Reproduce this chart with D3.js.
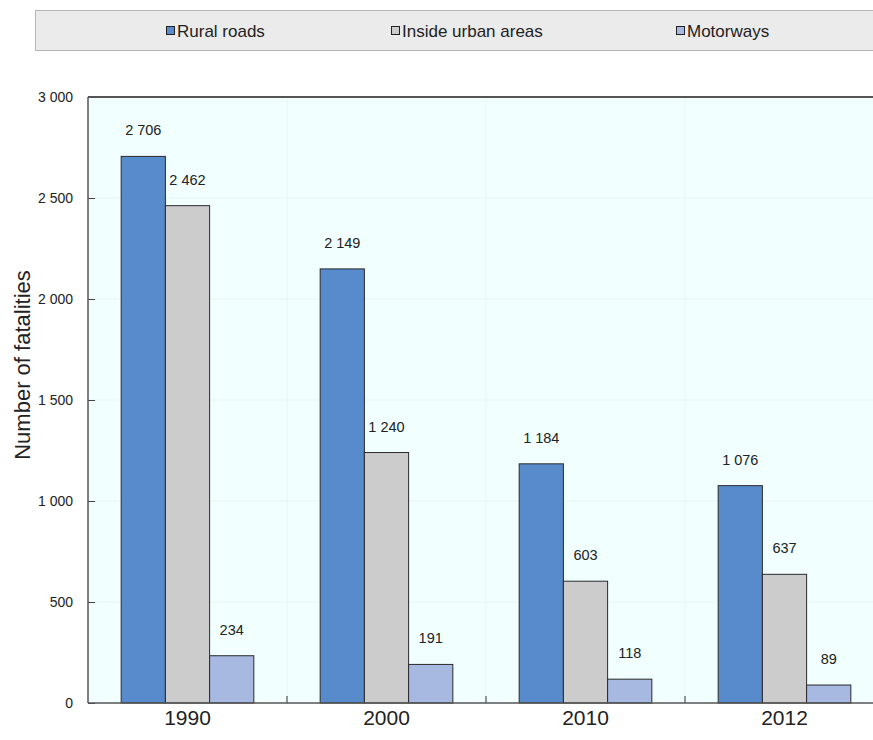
<!DOCTYPE html>
<html>
<head>
<meta charset="utf-8">
<script src="https://cdn.jsdelivr.net/npm/d3@7"></script>
<style>
  body { margin: 0; background: #fff; }
  text { font-family: "Liberation Sans", Arial, sans-serif; fill: #222; }
</style>
</head>
<body>
<div id="chart"></div>
<script>
// data
const annees = ["1990", "2000", "2010", "2012"];
const series = ["Rural roads", "Inside urban areas", "Motorways"];
const ruralRoads = [2706, 2149, 1184, 1076];
const insideUrban = [2462, 1240, 603, 637];
const motorways = [234, 191, 118, 89];
const yTicks = [0, 500, 1000, 1500, 2000, 2500, 3000];

const couleurs = ["#588bcb", "#cccccc", "#a7b8e1"];
const valeurs = [ruralRoads, insideUrban, motorways];

const width = 873, height = 740;
const margin = { top: 97, right: -11, bottom: 37, left: 88 };

const svg = d3.select("#chart").append("svg")
    .attr("width", width)
    .attr("height", height);

const fmt = d3.formatLocale({ decimal: ".", thousands: " ", grouping: [3], currency: ["", ""] }).format(",");

const echelleX = d3.scaleBand()
    .domain(annees)
    .range([margin.left, width - margin.right]);

const echelleSerie = d3.scaleBand()
    .domain(series)
    .range([0, echelleX.bandwidth()])
    .paddingOuter(0.75)
    .paddingInner(0);

const echelleY = d3.scaleLinear()
    .domain([0, 3000])
    .range([height - margin.bottom, margin.top]);

// fond de la zone du graphique
svg.append("rect")
    .attr("x", margin.left)
    .attr("y", margin.top)
    .attr("width", width - margin.left)
    .attr("height", echelleY(0) - margin.top)
    .attr("fill", "#f1ffff");

// lignes de grille très légères
svg.append("g")
    .selectAll("line")
    .data(yTicks.slice(1, -1))
    .join("line")
    .attr("x1", margin.left)
    .attr("x2", width)
    .attr("y1", d => echelleY(d))
    .attr("y2", d => echelleY(d))
    .attr("stroke", "#e6f5f5")
    .attr("stroke-width", 1);

svg.append("g")
    .selectAll("line")
    .data(annees.slice(1))
    .join("line")
    .attr("x1", d => echelleX(d))
    .attr("x2", d => echelleX(d))
    .attr("y1", margin.top)
    .attr("y2", echelleY(0))
    .attr("stroke", "#e6f5f5");

// barres
const groupes = svg.append("g")
    .selectAll("g")
    .data(annees)
    .join("g")
    .attr("transform", d => "translate(" + echelleX(d) + ",0)");

series.forEach((s, i) => {
    groupes.append("rect")
        .attr("x", echelleSerie(s))
        .attr("y", (d, j) => echelleY(valeurs[i][j]))
        .attr("width", echelleSerie.bandwidth())
        .attr("height", (d, j) => echelleY(0) - echelleY(valeurs[i][j]))
        .attr("fill", couleurs[i])
        .attr("stroke", "#2a2a2a")
        .attr("stroke-width", 1);

    groupes.append("text")
        .attr("x", echelleSerie(s) + echelleSerie.bandwidth() / 2)
        .attr("y", (d, j) => echelleY(valeurs[i][j]) - 21)
        .attr("text-anchor", "middle")
        .style("font-size", "14.5px")
        .text((d, j) => fmt(valeurs[i][j]));
});

// axe Y
const axeY = d3.axisRight(echelleY)
    .tickValues(yTicks)
    .tickSize(7)
    .tickFormat("");

svg.append("g")
    .attr("transform", "translate(" + margin.left + ",0)")
    .call(axeY)
    .call(g => g.select(".domain").remove())
    .call(g => g.selectAll("line").attr("stroke", "#444"));

svg.append("g")
    .selectAll("text")
    .data(yTicks)
    .join("text")
    .attr("x", margin.left - 15)
    .attr("y", d => echelleY(d))
    .attr("dy", "0.35em")
    .attr("text-anchor", "end")
    .style("font-size", "14px")
    .text(d => fmt(d));

// axe X
const axeX = d3.axisBottom(echelleX).tickSize(0).tickFormat(d => d);
svg.append("g")
    .attr("transform", "translate(0," + echelleY(0) + ")")
    .call(axeX)
    .call(g => g.select(".domain").remove())
    .call(g => g.selectAll("text").style("font-size", "21px").attr("dy", "0.95em").attr("y", 2));

svg.append("g")
    .selectAll("line")
    .data(annees.slice(1))
    .join("line")
    .attr("x1", d => echelleX(d))
    .attr("x2", d => echelleX(d))
    .attr("y1", echelleY(0))
    .attr("y2", echelleY(0) - 7)
    .attr("stroke", "#333");

// cadre
svg.append("line")
    .attr("x1", margin.left).attr("x2", width)
    .attr("y1", echelleY(0)).attr("y2", echelleY(0))
    .attr("stroke", "#555").attr("stroke-width", 1.5);
svg.append("line")
    .attr("x1", margin.left).attr("x2", width)
    .attr("y1", margin.top).attr("y2", margin.top)
    .attr("stroke", "#555").attr("stroke-width", 2);
svg.append("line")
    .attr("x1", margin.left).attr("x2", margin.left)
    .attr("y1", margin.top).attr("y2", echelleY(0))
    .attr("stroke", "#555").attr("stroke-width", 1.5);

// titre axe Y
svg.append("text")
    .attr("transform", "translate(30,365) rotate(-90)")
    .attr("text-anchor", "middle")
    .style("font-size", "22px")
    .text("Number of fatalities");

// légende
svg.append("rect")
    .attr("x", 35.5)
    .attr("y", 10.5)
    .attr("width", 850)
    .attr("height", 40)
    .attr("fill", "#ebebeb")
    .attr("stroke", "#b5b5b5");

const legendeX = [166, 391, 676];
const legende = svg.append("g")
    .selectAll("g")
    .data(series)
    .join("g")
    .attr("transform", (d, i) => "translate(" + legendeX[i] + ",31)");

legende.append("rect")
    .attr("x", 0.5)
    .attr("y", -4.5)
    .attr("width", 8)
    .attr("height", 8)
    .attr("fill", (d, i) => couleurs[i])
    .attr("stroke", "#222");

legende.append("text")
    .attr("x", 11)
    .attr("dy", "0.35em")
    .style("font-size", "17px")
    .text(d => d);
</script>
</body>
</html>
